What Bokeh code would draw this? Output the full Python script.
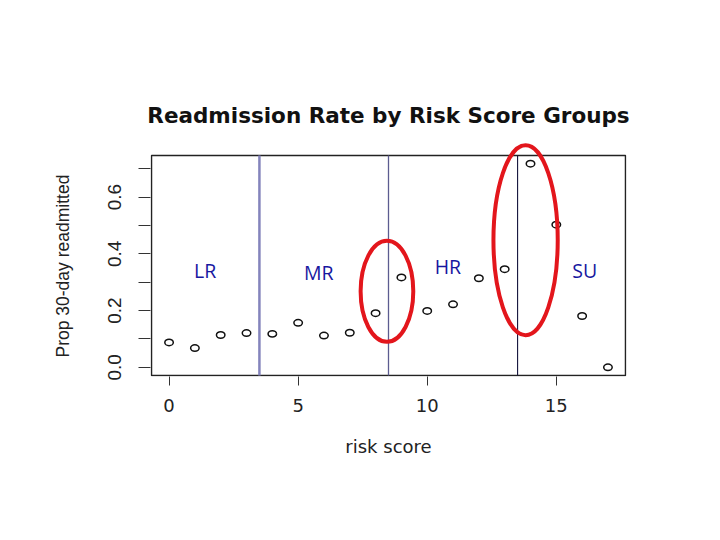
from bokeh.plotting import figure
from bokeh.models import Range1d, FixedTicker, Title, PrintfTickFormatter
from bokeh.embed import file_html
from bokeh.resources import INLINE
from bokeh.core.properties import value

# ---- data ----
risk_score = list(range(18))
prop_readmitted = [0.088, 0.068, 0.114, 0.121, 0.118, 0.157, 0.112, 0.122, 0.191,
                   0.317, 0.199, 0.222, 0.314, 0.346, 0.718, 0.503, 0.181, 0.0]
group_cuts = [3.5, 8.5, 13.5]
group_labels = ["LR", "MR", "HR", "SU"]
group_label_x = [1.4, 5.8, 10.8, 16.1]
group_label_y = [0.343, 0.336, 0.354, 0.343]
x_ticks = [0, 5, 10, 15]
y_ticks = [0.0, 0.2, 0.4, 0.6]
y_minor_ticks = [0.1, 0.3, 0.5, 0.7]
ellipse_x = [8.44, 13.81]
ellipse_y = [0.268, 0.448]
ellipse_w = [2.04, 2.49]
ellipse_h = [0.356, 0.670]

# ---- R-style plot region (4% padding) ----
xmin, xmax = min(risk_score), max(risk_score)
ymin, ymax = min(prop_readmitted), max(prop_readmitted)
xlo, xhi = xmin - 0.04 * (xmax - xmin), xmax + 0.04 * (xmax - xmin)
ylo, yhi = ymin - 0.04 * (ymax - ymin), ymax + 0.04 * (ymax - ymin)

BOX_W, BOX_H = 474, 220
PAD_SIDE, PAD_TOP = 1, 17
ux = (xhi - xlo) / BOX_W
uy = (yhi - ylo) / BOX_H

p = figure(width=700, height=520, output_backend="svg", toolbar_location=None,
           x_range=Range1d(xlo - PAD_SIDE * ux, xhi + PAD_SIDE * ux),
           y_range=Range1d(ylo - PAD_SIDE * uy, yhi + PAD_TOP * uy),
           min_border_left=150, min_border_right=74,
           min_border_top=138, min_border_bottom=144)
p.outline_line_color = None
p.xgrid.visible = False
p.ygrid.visible = False
p.background_fill_color = "white"
p.border_fill_color = "white"

# box
p.quad(left=xlo, right=xhi, bottom=ylo, top=yhi, fill_color=None,
       line_color="#222222", line_width=1.5)

# group boundaries
p.segment(x0=group_cuts, y0=[ylo] * 3, x1=group_cuts, y1=[yhi] * 3,
          line_color=["#8484bc", "#5c5c90", "#14143c"], line_width=[2.5, 1.3, 1.1])

# points
p.ellipse(x=risk_score, y=prop_readmitted, width=8.5, height=6.5,
          width_units="screen", height_units="screen",
          fill_color="white", line_color="#111111", line_width=1.5)

# red ellipses
p.ellipse(x=ellipse_x, y=ellipse_y, width=ellipse_w, height=ellipse_h,
          fill_color=None, line_color="#e3161c", line_width=4)

# group labels
p.text(x=group_label_x, y=group_label_y, text=group_labels,
       text_font=value("Open Sans"), text_font_size="19.5px", text_color="#1717a0",
       text_align="center", text_baseline="middle")

# axes
for ax in (p.xaxis[0], p.yaxis[0]):
    ax.axis_line_color = None
    ax.major_tick_in = 0
    ax.minor_tick_in = 0
    ax.major_tick_line_color = "#333333"
    ax.minor_tick_line_color = "#333333"
    ax.major_label_text_color = "#222222"

xa = p.xaxis[0]
xa.ticker = FixedTicker(ticks=x_ticks)
xa.major_tick_out = 9
xa.major_label_standoff = 13
xa.major_label_text_font = "DejaVu Sans"
xa.major_label_text_font_size = "18px"
xa.axis_label = "risk score"
xa.axis_label_text_font = "DejaVu Sans"
xa.axis_label_text_font_size = "18px"
xa.axis_label_text_font_style = "normal"
xa.axis_label_text_color = "#222222"
xa.axis_label_standoff = 21

ya = p.yaxis[0]
ya.ticker = FixedTicker(ticks=y_ticks, minor_ticks=y_minor_ticks)
ya.formatter = PrintfTickFormatter(format="%.1f")
ya.major_tick_out = 12
ya.minor_tick_out = 12
ya.major_label_standoff = 17
ya.major_label_orientation = "vertical"
ya.major_label_text_font = "Liberation Sans"
ya.major_label_text_font_size = "19px"

p.add_layout(Title(text="Prop 30-day readmitted", align="left", offset=19,
                   text_font="Liberation Sans", text_font_size="17.5px",
                   text_font_style="normal", text_color="#222222", standoff=66), "left")

p.add_layout(Title(text="Readmission Rate by Risk Score Groups", align="center",
                   text_font="DejaVu Sans", text_font_size="21.5px",
                   text_font_style="bold", text_color="#111111", standoff=22), "above")

open("out.html", "w").write(file_html(p, INLINE))
